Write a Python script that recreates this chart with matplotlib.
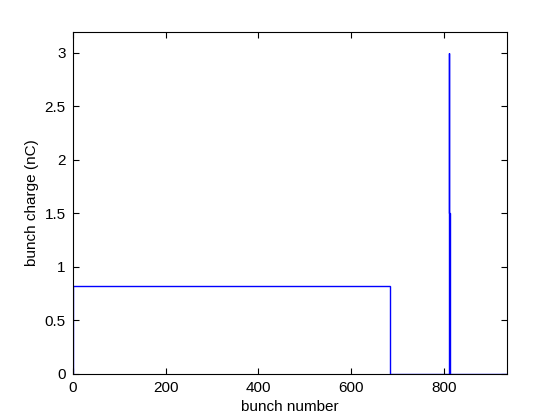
import matplotlib
matplotlib.use("Agg")
import matplotlib.pyplot as plt

# bunch train: edges of constant-charge segments and their charge (nC)
bunch_edges = [0, 685, 811, 812, 814, 936]
bunch_charge = [0.82, 0, 3.0, 1.5, 0]

x_ticks = [0, 200, 400, 600, 800]
y_ticks = [0, 0.5, 1, 1.5, 2, 2.5, 3]

plt.rcParams['font.family'] = ['Liberation Sans', 'DejaVu Sans']

fig = plt.figure(figsize=(5.6, 4.2), dpi=100)
ax = fig.add_axes([0.13, 0.11, 0.775, 0.815])

ax.stairs(bunch_charge, bunch_edges, color='#0000ff', linewidth=1.0)

ax.set_xlim(0, 936)
ax.set_ylim(0, 3.2)
ax.set_xticks(x_ticks)
ax.set_yticks(y_ticks)
ax.set_yticklabels(['0', '0.5', '1', '1.5', '2', '2.5', '3'])

ax.tick_params(direction='in', top=True, right=True, length=4, width=0.8,
               labelsize=11)
ax.tick_params(axis='x', pad=5)
ax.tick_params(axis='y', pad=5)
for s in ax.spines.values():
    s.set_linewidth(0.8)
    s.set_zorder(3)

ax.set_xlabel('bunch number', fontsize=11, labelpad=4)
ax.set_ylabel('bunch charge (nC)', fontsize=11, labelpad=4)

fig.savefig('out.png', dpi=100)
